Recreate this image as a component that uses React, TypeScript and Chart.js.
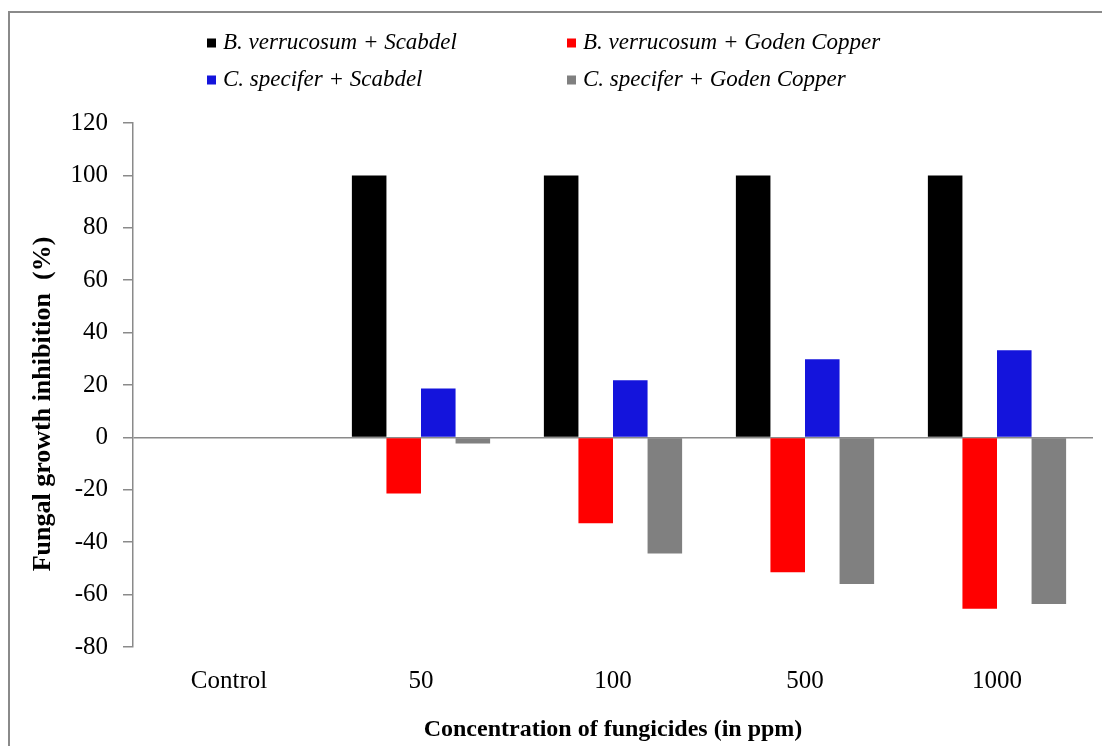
import React, { useEffect, useRef } from 'react';
import { Chart, registerables } from 'chart.js';

Chart.register(...registerables);

const categories = ['Control', '50', '100', '500', '1000'];
const seriesNames = [
  'B. verrucosum + Scabdel',
  'B. verrucosum + Goden Copper',
  'C. specifer + Scabdel',
  'C. specifer + Goden Copper',
];
const bvScabdel = [0, 100, 100, 100, 100];
const bvGoden = [0, -21.4, -32.8, -51.5, -65.4];
const csScabdel = [0, 18.7, 21.8, 29.8, 33.3];
const csGoden = [0, -2.3, -44.3, -56, -63.6];
const seriesColors = ['#000000', '#ff0000', '#1414dc', '#808080'];
const yMin = -80;
const yMax = 120;
const yStep = 20;
const xTitle = 'Concentration of fungicides (in ppm)';
const yTitle = 'Fungal growth inhibition  (%)';

const SERIF = '"Liberation Serif", "Times New Roman", serif';

const framePlugin = {
  id: 'frame',
  beforeDraw(chart: any) {
    const ctx = chart.ctx;
    ctx.save();
    ctx.fillStyle = '#ffffff';
    ctx.fillRect(0, 0, chart.width, chart.height);
    ctx.strokeStyle = '#8a8a8a';
    ctx.lineWidth = 2;
    ctx.beginPath();
    ctx.moveTo(9, chart.height);
    ctx.lineTo(9, 12);
    ctx.lineTo(chart.width, 12);
    ctx.stroke();
    ctx.restore();
  },
};

const yTitlePlugin = {
  id: 'yTitle',
  afterDraw(chart: any) {
    const ctx = chart.ctx;
    ctx.save();
    ctx.translate(43, 404);
    ctx.rotate(-Math.PI / 2);
    ctx.font = 'bold 26px ' + SERIF;
    ctx.fillStyle = '#000000';
    ctx.textAlign = 'center';
    ctx.textBaseline = 'middle';
    ctx.fillText(yTitle, 0, 0);
    ctx.restore();
  },
};

const legendPlugin = {
  id: 'gridLegend',
  afterDraw(chart: any) {
    const ctx = chart.ctx;
    const colX = [207, 567];
    const rowY = [43, 80];
    ctx.save();
    ctx.font = 'italic 23px ' + SERIF;
    ctx.textBaseline = 'middle';
    ctx.textAlign = 'left';
    chart.data.datasets.forEach((ds: any, i: number) => {
      const x = colX[i % 2];
      const y = rowY[Math.floor(i / 2)];
      ctx.fillStyle = ds.backgroundColor;
      ctx.fillRect(x, y - 4.5, 9, 9);
      ctx.fillStyle = '#000000';
      ctx.fillText(ds.label, x + 16, y);
    });
    ctx.restore();
  },
};

export default function App() {
  const ref = useRef<HTMLCanvasElement | null>(null);

  useEffect(() => {
    if (!ref.current) return;
    const datasets = [bvScabdel, bvGoden, csScabdel, csGoden].map((d, i) => ({
      label: seriesNames[i],
      data: d,
      backgroundColor: seriesColors[i],
      borderWidth: 0,
      categoryPercentage: 0.72,
      barPercentage: 1.0,
    }));
    const chart = new Chart(ref.current, {
      type: 'bar',
      data: { labels: categories, datasets },
      plugins: [framePlugin, legendPlugin, yTitlePlugin],
      options: {
        animation: false,
        responsive: false,
        maintainAspectRatio: false,
        layout: { padding: { left: 0, right: 9, top: 123, bottom: 0 } },
        plugins: {
          legend: { display: false },
          tooltip: { enabled: false },
        },
        scales: {
          x: {
            grid: { display: false },
            border: { display: false },
            ticks: {
              color: '#000000',
              font: { family: SERIF, size: 25, lineHeight: 1.2 },
              padding: 11,
              maxRotation: 0,
            },
            title: {
              display: true,
              text: xTitle,
              color: '#000000',
              font: { family: SERIF, size: 24, weight: 'bold', lineHeight: 1.2 },
              padding: { top: 0, bottom: 2 },
            },
            afterFit(scale: any) {
              scale.height = 99;
            },
          },
          y: {
            min: yMin,
            max: yMax,
            ticks: {
              stepSize: yStep,
              color: '#000000',
              font: { family: SERIF, size: 25, lineHeight: 1.2 },
              padding: 15,
            },
            grid: {
              drawOnChartArea: true,
              color: (c: any) => (c.tick && c.tick.value === 0 ? '#8a8a8a' : 'rgba(0,0,0,0)'),
              tickColor: '#8a8a8a',
              tickLength: 10,
              lineWidth: 1.5,
            },
            border: { display: true, color: '#8a8a8a', width: 1.5 },
            title: { display: false },
            afterFit(scale: any) {
              scale.width = 133;
            },
          },
        },
      } as any,
    });
    return () => chart.destroy();
  }, []);

  return (
    <div style={{ position: 'fixed', left: 0, top: 0, width: 1102, height: 746, background: '#fff' }}>
      <canvas ref={ref} width={1102} height={746} style={{ display: 'block', width: 1102, height: 746 }} />
    </div>
  );
}
